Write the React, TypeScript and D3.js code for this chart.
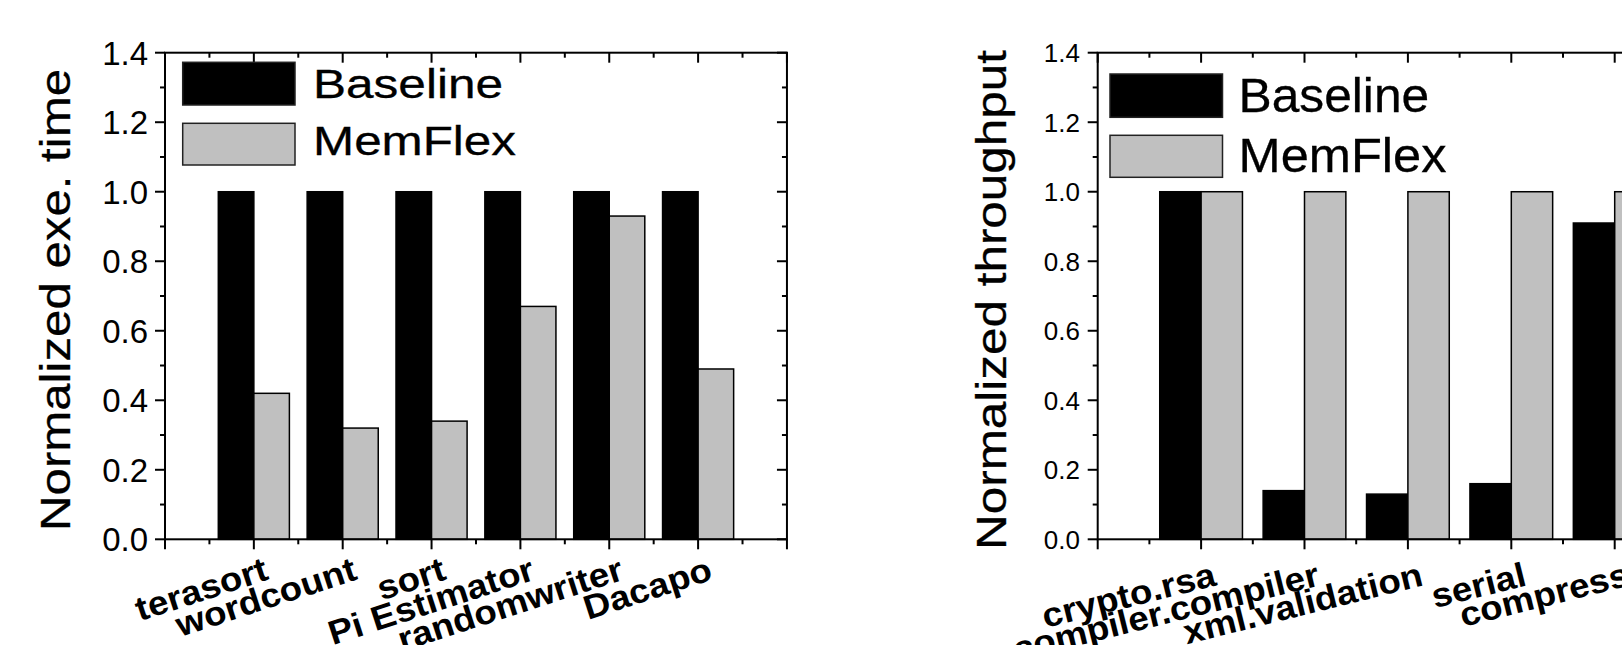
import * as d3 from 'd3';
import React from 'react';

// left panel: normalized execution time
const execCategories = ['terasort', 'wordcount', 'sort', 'Pi Estimator', 'randomwriter', 'Dacapo'];
const execBaseline = [1.0, 1.0, 1.0, 1.0, 1.0, 1.0];
const execMemFlex = [0.42, 0.32, 0.34, 0.67, 0.93, 0.49];

// right panel: normalized throughput (cut at the picture edge)
const tputCategories = ['crypto.rsa', 'compiler.compiler', 'xml.validation', 'serial', 'compress'];
const tputBaseline = [1.0, 0.14, 0.13, 0.16, 0.91];
const tputMemFlex = [1.0, 1.0, 1.0, 1.0, 1.0];

const yTickValues = [0, 0.2, 0.4, 0.6, 0.8, 1.0, 1.2, 1.4];
const seriesNames = ['Baseline', 'MemFlex'];
const seriesColors = ['#000000', '#c0c0c0'];

const FONT = '"Liberation Sans", Arial, Helvetica, sans-serif';

type PanelProps = {
  categories: string[];
  baseline: number[];
  memflex: number[];
  title: string;
  left: number;
  step: number;
  tickFont: number;
  tickLabelRight: number;
  titleX: number;
  titleFont: number;
  titleLen: number;
  legend: { x: number; w: number; ys: number[]; hs: number[]; textX: number; baselines: number[]; font: number; lens: number[] };
  labelDx: number;
  labelY: number;
  labelAngle: number;
};

const top = 52.7;
const bottom = 539.3;

function Panel(p: PanelProps) {
  const slots = 7;
  const x = d3.scaleLinear().domain([0, slots]).range([p.left, p.left + slots * p.step]);
  const y = d3.scaleLinear().domain([0, 1.4]).range([bottom, top]);
  const barW = x(0.4) - x(0);
  const right = x(slots);

  const majorX = d3.range(0, slots + 1);
  const minorX = d3.range(0.5, slots, 1);
  const majorY = yTickValues;
  const minorY = d3.range(0.1, 1.4, 0.2);

  return (
    <g>
      {/* bars */}
      {p.categories.map((c, i) => (
        <g key={c}>
          <rect x={x(i + 1) - barW} y={y(p.baseline[i])} width={barW} height={y(0) - y(p.baseline[i])}
            fill={seriesColors[0]} stroke="#000" strokeWidth={1.5} />
          <rect x={x(i + 1)} y={y(p.memflex[i])} width={barW} height={y(0) - y(p.memflex[i])}
            fill={seriesColors[1]} stroke="#000" strokeWidth={1.5} />
        </g>
      ))}

      {/* frame */}
      <rect x={p.left} y={top} width={right - p.left} height={bottom - top} fill="none" stroke="#000" strokeWidth={2} />

      {/* y ticks: outward on the left, inward on the right */}
      {majorY.map(v => (
        <g key={'my' + v}>
          <line x1={p.left - 10} x2={p.left} y1={y(v)} y2={y(v)} stroke="#000" strokeWidth={2} />
          <line x1={right - 10} x2={right} y1={y(v)} y2={y(v)} stroke="#000" strokeWidth={2} />
          <text x={p.tickLabelRight} y={y(v) + p.tickFont * 0.36} textAnchor="end" fontSize={p.tickFont} fontFamily={FONT}>
            {v.toFixed(1)}
          </text>
        </g>
      ))}
      {minorY.map(v => (
        <g key={'ny' + v}>
          <line x1={p.left - 5} x2={p.left} y1={y(v)} y2={y(v)} stroke="#000" strokeWidth={2} />
          <line x1={right - 5} x2={right} y1={y(v)} y2={y(v)} stroke="#000" strokeWidth={2} />
        </g>
      ))}

      {/* x ticks: outward at the bottom, inward at the top */}
      {majorX.map(v => (
        <g key={'mx' + v}>
          <line x1={x(v)} x2={x(v)} y1={bottom} y2={bottom + 10} stroke="#000" strokeWidth={2} />
          <line x1={x(v)} x2={x(v)} y1={top} y2={top + 10} stroke="#000" strokeWidth={2} />
        </g>
      ))}
      {minorX.map(v => (
        <g key={'nx' + v}>
          <line x1={x(v)} x2={x(v)} y1={bottom} y2={bottom + 5} stroke="#000" strokeWidth={2} />
          <line x1={x(v)} x2={x(v)} y1={top} y2={top + 5} stroke="#000" strokeWidth={2} />
        </g>
      ))}

      {/* category labels, rotated about their right end */}
      {p.categories.map((c, i) => (
        <text key={'l' + c} transform={`translate(${x(i + 1) + p.labelDx},${p.labelY}) rotate(${-p.labelAngle}) scale(1.08,1)`}
          textAnchor="end" fontSize={34} fontWeight="bold" fontFamily={FONT}>
          {c}
        </text>
      ))}

      {/* axis title */}
      <text transform={`translate(${p.titleX},${(top + bottom) / 2 + 4}) rotate(-90)`} textAnchor="middle"
        fontSize={p.titleFont} fontFamily={FONT} textLength={p.titleLen} lengthAdjust="spacingAndGlyphs"
        stroke="#000" strokeWidth={0.3}>
        {p.title}
      </text>

      {/* legend */}
      {seriesNames.map((s, i) => (
        <g key={s}>
          <rect x={p.legend.x} y={p.legend.ys[i]} width={p.legend.w} height={p.legend.hs[i]}
            fill={seriesColors[i]} stroke="#222" strokeWidth={1.5} />
          <text x={p.legend.textX} y={p.legend.baselines[i]} fontSize={p.legend.font} fontFamily={FONT}
            textLength={p.legend.lens[i]} lengthAdjust="spacingAndGlyphs" stroke="#000" strokeWidth={0.3}>
            {s}
          </text>
        </g>
      ))}
    </g>
  );
}

export default function App() {
  return (
    <svg width={1622} height={645} style={{ position: 'absolute', left: 0, top: 0, background: '#fff' }}>
      <rect width={1622} height={645} fill="#fff" />
      <Panel
        categories={execCategories}
        baseline={execBaseline}
        memflex={execMemFlex}
        title="Normalized exe.  time"
        left={165}
        step={88.85}
        tickFont={33}
        tickLabelRight={148}
        titleX={70}
        titleFont={42}
        titleLen={462}
        legend={{ x: 182.7, w: 112.3, ys: [62.3, 123.3], hs: [42.7, 41.7], textX: 313, baselines: [97.7, 155], font: 41, lens: [190, 203] }}
        labelDx={16}
        labelY={579}
        labelAngle={18}
      />
      <Panel
        categories={tputCategories}
        baseline={tputBaseline}
        memflex={tputMemFlex}
        title="Normalized throughput"
        left={1097.7}
        step={103.4}
        tickFont={26}
        tickLabelRight={1080}
        titleX={1006}
        titleFont={43}
        titleLen={500}
        legend={{ x: 1110, w: 112.5, ys: [74, 135.3], hs: [43.3, 42], textX: 1238.5, baselines: [111.7, 171.7], font: 48, lens: [190.7, 208] }}
        labelDx={16.5}
        labelY={585}
        labelAngle={14}
      />
    </svg>
  );
}
